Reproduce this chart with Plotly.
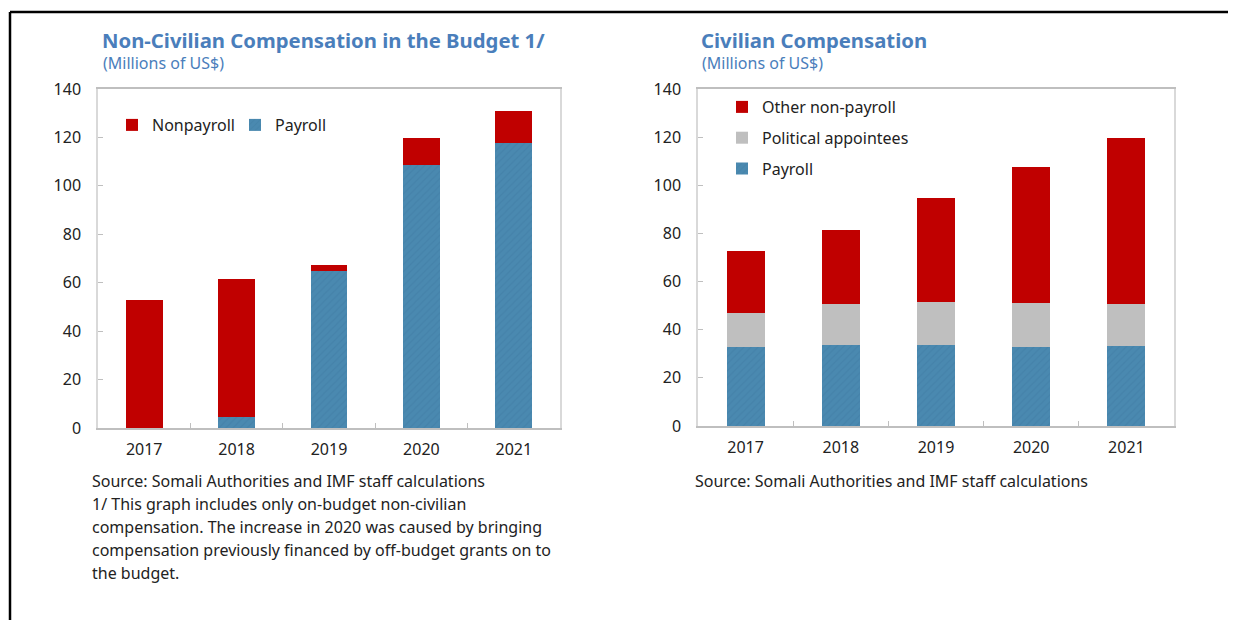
import plotly.graph_objects as go

years = ["2017", "2018", "2019", "2020", "2021"]

# Left chart: Non-civilian compensation
nc_payroll = [0, 4.5, 65, 108.7, 117.8]
nc_nonpayroll = [53, 57.1, 2.4, 11.1, 13.2]

# Right chart: Civilian compensation
c_payroll = [32.8, 33.6, 33.6, 32.8, 33.2]
c_political = [14.1, 17.1, 17.9, 18.3, 17.5]
c_other = [25.8, 30.7, 43.2, 56.5, 68.9]

RED = "#C00000"
BLUE = "#4A89B0"
GRAY = "#BFBFBF"
TITLE = "#4A7EBB"
FONT = "Noto Sans, Open Sans, sans-serif"

W, H = 1228, 612
OFF = 8  # page body margin


def px(x):
    return (x - OFF) / W


def py(y):
    return 1 - (y - OFF) / H


pattern = dict(shape="/", fgcolor="#3F7CA3", size=5, solidity=0.25)

fig = go.Figure()
fig.add_trace(go.Bar(x=years, y=nc_payroll, name="Payroll", legendgroup="a1", legendrank=2,
                     marker=dict(color=BLUE, pattern=pattern, line=dict(width=0)),
                     xaxis="x", yaxis="y", legend="legend", width=0.4))
fig.add_trace(go.Bar(x=years, y=nc_nonpayroll, name="Nonpayroll", legendgroup="a2", legendrank=1,
                     marker=dict(color=RED, line=dict(width=0)),
                     xaxis="x", yaxis="y", legend="legend", width=0.4))
fig.add_trace(go.Bar(x=years, y=c_payroll, name="Payroll", legendgroup="b1", legendrank=3,
                     marker=dict(color=BLUE, pattern=pattern, line=dict(width=0)),
                     xaxis="x2", yaxis="y2", legend="legend2", width=0.4))
fig.add_trace(go.Bar(x=years, y=c_political, name="Political appointees", legendgroup="b2", legendrank=2,
                     marker=dict(color=GRAY, line=dict(width=0)),
                     xaxis="x2", yaxis="y2", legend="legend2", width=0.4))
fig.add_trace(go.Bar(x=years, y=c_other, name="Other non-payroll", legendgroup="b3", legendrank=1,
                     marker=dict(color=RED, line=dict(width=0)),
                     xaxis="x2", yaxis="y2", legend="legend2", width=0.4))

xax = dict(type="category", showline=True, linecolor="#BFBFBF", linewidth=1.5, mirror=True,
           ticks="inside", tickson="boundaries", ticklen=5, tickcolor="#BFBFBF", automargin=False,
           tickfont=dict(size=16, color="#222222", family=FONT), showgrid=False, zeroline=False,
           ticklabelstandoff=6)
yax = dict(range=[0, 140], dtick=20, showline=True, linecolor="#D9D9D9", linewidth=1.5, mirror=True,
           ticks="inside", ticklen=5, tickcolor="#BFBFBF", showgrid=False, zeroline=False, automargin=False,
           tickfont=dict(size=16, color="#222222", family=FONT), ticklabelstandoff=12)

fig.update_layout(
    width=W, height=H, margin=dict(l=0, r=0, t=0, b=0, autoexpand=False),
    paper_bgcolor="white", plot_bgcolor="white", barmode="stack", showlegend=True,
    font=dict(family=FONT, color="#222222"),
    xaxis=dict(xax, domain=[px(98), px(560)], anchor="y"),
    yaxis=dict(yax, domain=[py(428), py(89)], anchor="x"),
    xaxis2=dict(xax, domain=[px(698), px(1174)], anchor="y2"),
    yaxis2=dict(yax, domain=[py(426), py(89)], anchor="x2"),
    legend=dict(orientation="h", x=px(112), y=py(125), xanchor="left", yanchor="middle",
                traceorder="normal", font=dict(size=16, family=FONT), bgcolor="rgba(0,0,0,0)",
                itemwidth=30, tracegroupgap=0, entrywidth=78, entrywidthmode="pixels"),
    legend2=dict(orientation="v", x=px(722), y=py(90), xanchor="left", yanchor="top",
                 traceorder="grouped", font=dict(size=16, family=FONT), bgcolor="rgba(0,0,0,0)",
                 itemwidth=30, tracegroupgap=7),
)

# Frame lines
fig.add_shape(type="line", xref="paper", yref="paper", x0=px(10), x1=1, y0=py(12), y1=py(12),
              line=dict(color="black", width=2.5))
fig.add_shape(type="line", xref="paper", yref="paper", x0=px(10), x1=px(10), y0=0, y1=py(12),
              line=dict(color="black", width=2.5))


def ann(text, x, y, size, color="#222222", bold=False):
    fig.add_annotation(text=("<b>%s</b>" % text) if bold else text, xref="paper", yref="paper",
                       x=px(x), y=py(y), xanchor="left", yanchor="middle", showarrow=False,
                       font=dict(size=size, color=color, family=FONT))


ann("Non-Civilian Compensation in the Budget 1/", 100, 40, 20.3, TITLE, True)
ann("(Millions of US$)", 101, 63, 16, TITLE)
ann("Civilian Compensation", 699, 40, 20.3, TITLE, True)
ann("(Millions of US$)", 700, 63, 16, TITLE)

notes = ["Source: Somali Authorities and IMF staff calculations",
         "1/ This graph includes only on-budget non-civilian",
         "compensation. The increase in 2020 was caused by bringing",
         "compensation previously financed by off-budget grants on to",
         "the budget."]
for i, t in enumerate(notes):
    ann(t, 90, 481 + i * 23, 16)
ann("Source: Somali Authorities and IMF staff calculations", 693, 481, 16)

fig.write_html("out.html")
